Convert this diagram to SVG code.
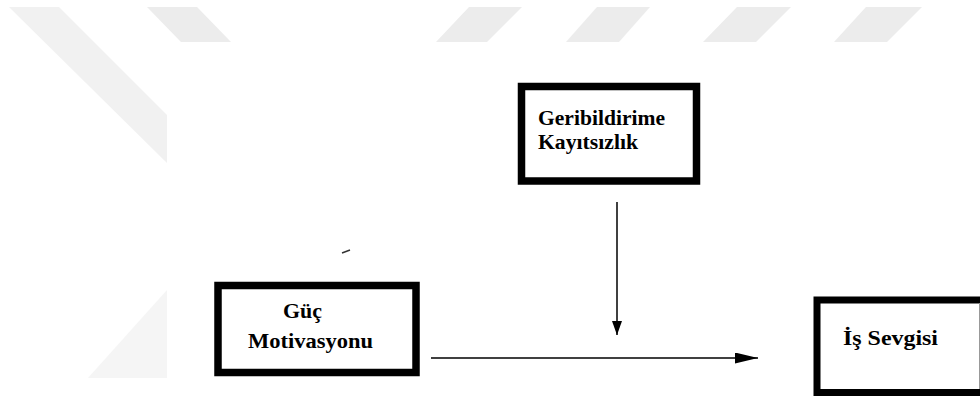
<svg xmlns="http://www.w3.org/2000/svg" width="980" height="399" viewBox="0 0 980 399">
  <style>
    .box { fill: #ffffff; stroke: #000000; }
    .lbl { font-family: "Liberation Serif", "Times New Roman", serif; font-weight: bold; font-size: 20px; fill: #000000; }
    .conn { stroke: #000000; stroke-width: 1.5; fill: none; }
    .wm { fill: #ececec; }
  </style>
  <defs>
    <marker id="headH" viewBox="0 0 10 10" refX="10" refY="5" markerUnits="userSpaceOnUse" markerWidth="23" markerHeight="11" preserveAspectRatio="none" orient="auto">
      <path d="M0,0 L10,5 L0,10 Z" fill="#000000"/>
    </marker>
    <marker id="headV" viewBox="0 0 10 10" refX="10" refY="5" markerUnits="userSpaceOnUse" markerWidth="14" markerHeight="10" preserveAspectRatio="none" orient="auto">
      <path d="M0,0 L10,5 L0,10 Z" fill="#000000"/>
    </marker>
  </defs>
  <rect x="0" y="0" width="980" height="399" fill="#ffffff"/>
  <g id="watermark">
    <polygon points="9,7 59,7 167,115 167,163" fill="#f1f1f1"/>
    <polygon points="167,290 167,378 88,378" fill="#f5f5f5"/>
    <polygon class="wm" points="147,7 197,7 231,42 181,42"/>
    <polygon class="wm" points="469,7 522,7 487,42 436,42"/>
    <polygon class="wm" points="597,7 650,7 619,42 566,42"/>
    <polygon class="wm" points="737,7 791,7 756,42 703,42"/>
    <polygon class="wm" points="866,7 922,7 887,42 834,42"/>
  </g>
  <g id="marks">
    <line x1="342" y1="253" x2="350" y2="250" stroke="#333333" stroke-width="1.5"/>
    <circle cx="231" cy="342" r="0.9" fill="#555555"/>
  </g>
  <g id="connectors">
    <line class="conn" x1="431" y1="358" x2="758" y2="358" marker-end="url(#headH)"/>
    <line class="conn" x1="617" y1="202" x2="617" y2="335" marker-end="url(#headV)"/>
  </g>
  <g id="node-geribildirime">
    <rect class="box" x="521.5" y="86.5" width="175" height="94.5" stroke-width="7.5"/>
    <text class="lbl" x="538" y="125" textLength="127" lengthAdjust="spacingAndGlyphs">Geribildirime</text>
    <text class="lbl" x="538" y="149" textLength="100" lengthAdjust="spacingAndGlyphs">Kayıtsızlık</text>
  </g>
  <g id="node-guc">
    <rect class="box" x="218" y="285.5" width="198" height="87" stroke-width="7.5"/>
    <text class="lbl" x="283" y="318" textLength="39" lengthAdjust="spacingAndGlyphs">Güç</text>
    <text class="lbl" x="248" y="348" textLength="125" lengthAdjust="spacingAndGlyphs">Motivasyonu</text>
  </g>
  <g id="node-is-sevgisi">
    <rect class="box" x="817" y="300" width="175" height="92.5" stroke-width="7"/>
    <line x1="979.5" y1="303" x2="979.5" y2="389" stroke="#999999" stroke-width="1"/>
    <text class="lbl" x="843" y="345" textLength="95" lengthAdjust="spacingAndGlyphs">İş Sevgisi</text>
  </g>
</svg>
